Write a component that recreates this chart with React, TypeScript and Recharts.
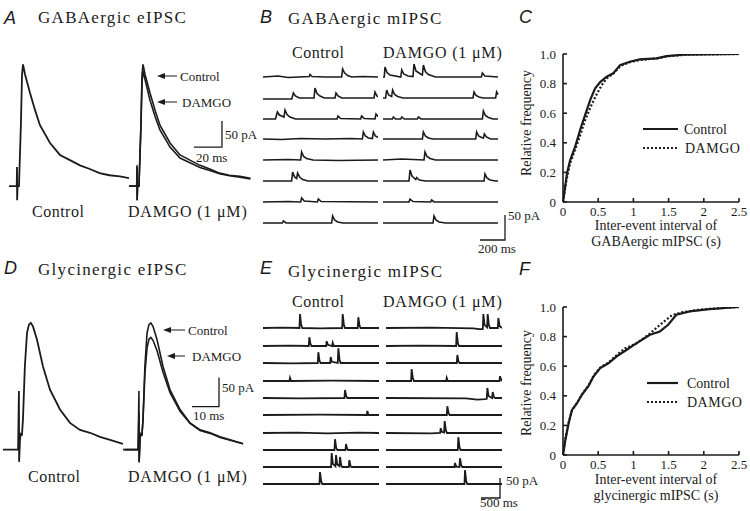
import { Line, LineChart, XAxis, YAxis } from "recharts";

const INK = "#1b1b1b";
const SERIF = "'Liberation Serif', 'Times New Roman', serif";
const SANS = "'Liberation Sans', Arial, sans-serif";

// evoked IPSCs, flat [ms, pA, ms, pA, ...]
const gabaEControl = [-5.7, 0, -0.2, 0, 0, 37, 0.1, -27, 0.4, 0, 1.4, 0, 2.8, 120, 3.6, 215, 4.3, 234, 5.7, 215, 9.3, 179, 12.9, 146, 16.4, 117, 23.6, 83, 30.7, 60, 37.8, 50, 45, 40, 52, 33, 59, 25, 66, 21, 73.5, 19, 81, 15];
const gabaEDamgo = [-5.7, 0, -0.2, 0, 0, 40, 0.1, -27, 0.4, 0, 1.4, 0, 2.8, 110, 3.6, 200, 4.3, 221, 5.7, 205, 9.3, 165, 12.9, 134, 16.4, 108, 23.6, 75, 30.7, 54, 37.8, 45, 45, 36, 52, 30, 59, 24, 66, 20, 73.5, 17, 81, 14];
const glyEControl = [-5.9, 0, -0.3, 0, 0, 101, 0.07, -21, 0.4, 17, 0.7, 29, 1.1, 24, 1.5, 52, 2.2, 143, 3, 201, 3.7, 215, 4.4, 218, 5.2, 212, 6.7, 189, 8.9, 143, 11.5, 103, 15.2, 69, 18.9, 46, 22.6, 34, 26.3, 29, 30, 22, 33.7, 17, 38.5, 10];
const glyEDamgo = [-5.2, 0, -0.3, 0, 0, 64, 0.07, -22, 0.4, 17, 0.7, 29, 1.1, 24, 1.5, 50, 2.2, 130, 3, 175, 3.7, 190, 4.4, 193, 5.2, 188, 6.7, 170, 8.9, 133, 11.5, 98, 15.2, 66, 18.9, 45, 22.6, 33, 26.3, 28, 30, 21, 33.7, 16, 38.5, 10];
const gabaEScale = [40.7, 75, 60.7, 75, 60.7, 125];
const glyEScale = [19.6, 74, 29.6, 74, 29.6, 124];

// GABAergic mIPSC sweeps, flat [ms, pA]
const gabaMiniControl = [
  [0, 0, 120, 2, 200, -1, 370, 1, 376, 5, 392, 1, 500, 0, 629, 0, 637, 16, 653, 8, 677, 3, 710, 0, 800, 1, 920, 0],
  [0, -2, 230, -2, 243, 10, 259, 4, 290, 0, 408, 0, 416, 20, 432, 9, 456, 4, 490, 0, 576, 0, 584, 10, 600, 4, 630, 0, 888, 0, 896, 12, 912, 4, 920, 2],
  [0, 0, 100, 0, 115, 14, 131, 8, 168, 4, 176, 18, 192, 9, 216, 4, 260, 0, 592, 0, 600, 6, 620, 1, 781, 0, 789, 6, 810, 1, 896, 0, 904, 10, 920, 5],
  [0, 0, 150, -1, 300, 1, 500, 0, 700, 1, 795, 0, 803, 14, 819, 6, 843, 2, 875, 1, 883, 14, 899, 6, 920, 3],
  [0, 0, 200, 1, 301, 0, 309, 16, 325, 7, 349, 3, 400, 0, 600, -1, 920, 0],
  [0, 0, 229, 0, 237, 18, 253, 8, 269, 5, 277, 16, 293, 8, 317, 3, 360, 0, 920, 0],
  [0, 0, 200, 1, 301, 0, 309, 8, 330, 2, 435, 0, 443, 6, 465, 1, 920, 0],
  [0, 0, 155, 0, 163, 4, 185, 0, 549, 0, 557, 14, 573, 6, 597, 2, 640, 0, 920, 0],
];
const gabaMiniDamgo = [
  [0, 0, 10, 0, 16, 20, 32, 9, 56, 4, 142, 0, 150, 14, 166, 6, 200, 2, 240, 1, 248, 26, 264, 12, 300, 6, 315, 4, 323, 24, 339, 11, 363, 5, 420, 0, 787, 0, 795, 8, 815, 2, 920, 0],
  [0, 0, 21, 0, 29, 16, 45, 6, 69, 3, 77, 16, 93, 7, 117, 3, 160, 0, 720, 0, 728, 12, 744, 5, 768, 2, 800, 0, 901, 0, 909, 12, 920, 7],
  [0, 0, 75, 0, 83, 4, 100, 0, 142, 0, 150, 4, 170, 0, 275, 0, 283, 4, 305, 0, 795, 0, 803, 16, 819, 7, 843, 3, 880, 0, 920, 0],
  [0, 0, 315, 0, 323, 14, 339, 6, 363, 2, 400, 0, 741, 0, 749, 14, 765, 6, 789, 3, 803, 2, 811, 10, 827, 4, 860, 0, 920, 0],
  [0, 0, 150, 2, 328, 0, 336, 16, 352, 7, 376, 3, 420, 0, 920, 0],
  [0, 0, 208, 0, 216, 22, 232, 10, 256, 4, 262, 3, 269, 7, 290, 2, 340, 0, 808, 0, 816, 14, 832, 6, 856, 2, 900, 0, 920, 0],
  [0, 0, 208, 0, 216, 6, 240, 1, 381, 0, 389, 4, 410, 0, 920, 0],
  [0, 0, 400, 0, 408, 14, 424, 6, 448, 2, 500, 0, 920, 0],
];
const gabaMiniScale = [80, 0, 280, 0, 280, 50];

// glycinergic mIPSC sweeps, flat [ms, pA]
const glyMiniControl = [
  [0, 0, 500, 1, 958, 0, 973, 35, 1003, 8, 1033, 0, 1500, -1, 2081, 0, 2096, 35, 2126, 8, 2156, 0, 2492, 0, 2507, 27, 2537, 6, 2567, 0, 3050, 0],
  [0, 0, 700, 1, 1203, 0, 1218, 22, 1248, 5, 1278, 0, 1660, 0, 1675, 12, 1705, 3, 1818, 0, 1833, 8, 1863, 0, 3050, 0],
  [0, 0, 800, -1, 1440, 0, 1455, 27, 1485, 6, 1515, 0, 1765, 0, 1780, 15, 1810, 3, 1966, 0, 1981, 37, 2011, 9, 2041, 0, 3050, 0],
  [0, 0, 695, 0, 710, 8, 740, 0, 1800, 1, 3050, 0],
  [0, 0, 1000, -1, 2142, 0, 2157, 20, 2187, 5, 2217, 0, 3050, 0],
  [0, 0, 1500, 1, 2729, 0, 2744, 10, 2774, 0, 3050, 0],
  [0, 0, 900, 1, 1700, -1, 2500, 1, 3050, 0],
  [0, 0, 1879, 0, 1894, 27, 1924, 6, 1954, 0, 2168, 0, 2183, 15, 2213, 3, 2243, 0, 3050, 0],
  [0, 0, 1791, 0, 1806, 35, 1836, 8, 1905, 2, 1920, 30, 1950, 7, 2010, 2, 2025, 25, 2055, 5, 2085, 0, 2255, 0, 2270, 17, 2300, 3, 2330, 0, 3050, 0],
  [0, 0, 1484, 0, 1499, 30, 1529, 7, 1559, 0, 3050, 0],
];
const glyMiniDamgo = [
  [0, 0, 1200, 1, 2300, -1, 2450, -3, 2545, -3, 2560, 35, 2590, 8, 2659, 2, 2674, 35, 2704, 8, 2734, 0, 2940, 0, 2955, 25, 2985, 5, 3050, 0],
  [0, 0, 900, 1, 1844, 0, 1859, 35, 1889, 7, 1919, 0, 3050, 0],
  [0, 0, 1861, 0, 1876, 20, 1906, 4, 1936, 0, 3050, 0],
  [0, 0, 660, 0, 675, 30, 705, 7, 735, 0, 1581, 0, 1596, 8, 1626, 0, 2983, 0, 2998, 12, 3028, 3, 3050, 0],
  [0, 0, 2100, -1, 2400, -4, 2600, -3, 2650, -2, 2665, 25, 2695, 5, 2791, 0, 2806, 15, 2836, 3, 2866, 0, 3050, 0],
  [0, 0, 1598, 0, 1613, 22, 1643, 5, 1673, 0, 3050, 0],
  [0, 0, 1200, -1, 1423, 0, 1438, 12, 1468, 3, 1528, 1, 1543, 30, 1573, 7, 1603, 0, 3050, 0],
  [0, 0, 1887, 0, 1902, 32, 1932, 7, 1962, 0, 3050, 0],
  [0, 0, 1800, 0, 1815, 10, 1845, 1, 1931, 0, 1946, 22, 1976, 5, 2006, 0, 3050, 0],
  [0, 0, 2063, 0, 2078, 35, 2108, 7, 2138, 0, 3050, 0],
];
const glyMiniScale = [289, 0, 789, 0, 789, 50];

// cumulative inter-event interval distributions, flat [s, fraction]
const gabaCumControl = [0, 0, 0.057, 0.194, 0.1, 0.28, 0.17, 0.37, 0.245, 0.49, 0.316, 0.59, 0.387, 0.69, 0.457, 0.768, 0.528, 0.81, 0.62, 0.847, 0.716, 0.87, 0.81, 0.925, 0.95, 0.948, 1.09, 0.964, 1.33, 0.97, 1.47, 0.986, 1.71, 0.995, 2.5, 1.0];
const gabaCumDamgo = [0, 0, 0.05, 0.15, 0.1, 0.26, 0.17, 0.35, 0.25, 0.46, 0.32, 0.56, 0.4, 0.65, 0.47, 0.72, 0.55, 0.79, 0.62, 0.835, 0.72, 0.87, 0.82, 0.92, 0.95, 0.945, 1.1, 0.96, 1.33, 0.97, 1.5, 0.985, 1.75, 0.995, 2.5, 1.0];
const glyCumControl = [0, 0, 0.033, 0.1, 0.08, 0.215, 0.127, 0.305, 0.198, 0.35, 0.268, 0.406, 0.363, 0.467, 0.433, 0.53, 0.528, 0.587, 0.645, 0.62, 0.764, 0.666, 0.905, 0.711, 1.047, 0.756, 1.235, 0.812, 1.376, 0.835, 1.494, 0.88, 1.61, 0.948, 1.8, 0.97, 2.08, 0.986, 2.5, 1.0];
const glyCumDamgo = [0, 0, 0.033, 0.11, 0.08, 0.22, 0.127, 0.3, 0.198, 0.35, 0.268, 0.41, 0.363, 0.47, 0.433, 0.535, 0.528, 0.59, 0.645, 0.625, 0.764, 0.675, 0.88, 0.72, 1.047, 0.755, 1.235, 0.82, 1.33, 0.86, 1.43, 0.9, 1.55, 0.945, 1.7, 0.965, 2.0, 0.985, 2.5, 1.0];

const cumXTicks = [0, 0.5, 1, 1.5, 2, 2.5];
const cumYTicks = [0, 0.2, 0.4, 0.6, 0.8, 1.0];

// row baselines (px) of the mIPSC sweeps
const gabaRows = [77, 98, 118.5, 139, 160, 181, 202, 223];
const glyRows = [328, 345.5, 363, 380.5, 398, 415, 432.5, 449.5, 466.5, 483.5];

const toPoints = (flat: number[]) => {
  const out: { t: number; v: number }[] = [];
  for (let i = 0; i < flat.length; i += 2) out.push({ t: flat[i], v: flat[i + 1] });
  return out;
};

interface TraceLine {
  data: number[];
  width?: number;
  dash?: string;
}

function Trace({ left, top, width, height, x, y, lines }: {
  left: number; top: number; width: number; height: number;
  x: [number, number]; y: [number, number]; lines: TraceLine[];
}) {
  return (
    <div style={{ position: "absolute", left, top }}>
      <LineChart width={width} height={height} margin={{ top: 0, right: 0, bottom: 0, left: 0 }}>
        <XAxis type="number" dataKey="t" domain={x} hide allowDataOverflow />
        <YAxis type="number" dataKey="v" domain={y} hide allowDataOverflow />
        {lines.map((l, i) => (
          <Line key={i} data={toPoints(l.data)} dataKey="v" type="linear" stroke={INK}
            strokeWidth={l.width ?? 1.5} strokeDasharray={l.dash} dot={false} activeDot={false}
            isAnimationActive={false} />
        ))}
      </LineChart>
    </div>
  );
}

function CumChart({ top, control, damgo }: { top: number; control: number[]; damgo: number[] }) {
  const tickStyle = { fontSize: 13, fill: INK, fontFamily: SERIF };
  const axisStroke = { stroke: INK, strokeWidth: 1.6 };
  return (
    <div style={{ position: "absolute", left: 520, top }}>
      <LineChart width={230} height={190} margin={{ top: 10, right: 11, bottom: 0, left: 0 }}>
        <XAxis type="number" dataKey="t" domain={[0, 2.5]} ticks={cumXTicks} allowDataOverflow
          tickSize={-4} tickMargin={9} height={32} axisLine={axisStroke} tickLine={axisStroke} tick={tickStyle} />
        <YAxis type="number" dataKey="v" domain={[0, 1]} ticks={cumYTicks} allowDataOverflow
          tickFormatter={(v: number) => (v === 0 ? "0" : v.toFixed(1))}
          tickSize={-4} tickMargin={11} width={43} axisLine={axisStroke} tickLine={axisStroke} tick={tickStyle} />
        <Line data={toPoints(control)} dataKey="v" type="linear" stroke={INK} strokeWidth={2.2}
          dot={false} activeDot={false} isAnimationActive={false} />
        <Line data={toPoints(damgo)} dataKey="v" type="linear" stroke={INK} strokeWidth={2.2}
          strokeDasharray="2 2" dot={false} activeDot={false} isAnimationActive={false} />
      </LineChart>
    </div>
  );
}

function Arrow({ x, y, x2 }: { x: number; y: number; x2: number }) {
  return (
    <g>
      <polygon points={`${x},${y} ${x + 8},${y - 3} ${x + 8},${y + 3}`} fill={INK} />
      <line x1={x + 7} y1={y} x2={x2} y2={y} stroke={INK} strokeWidth={1} />
    </g>
  );
}

export default function App() {
  const t = { fontFamily: SERIF, fill: INK };
  const letter = { fontFamily: SANS, fontStyle: "italic" as const, fontSize: 18, fill: INK };
  return (
    <div style={{ position: "absolute", left: 0, top: 0, width: 750, height: 511, background: "#fff", overflow: "hidden" }}>
      {/* A */}
      <Trace left={3} top={56} width={126} height={151} x={[-10, 80]} y={[-40, 250]}
        lines={[{ data: gabaEControl, width: 1.8 }]} />
      <Trace left={123} top={56} width={132} height={151} x={[-10, 84.3]} y={[-40, 250]}
        lines={[{ data: gabaEControl, width: 1.6 }, { data: gabaEDamgo, width: 1.6 }, { data: gabaEScale, width: 1.3 }]} />

      {/* D */}
      <Trace left={0} top={313} width={127} height={157} x={[-7, 40]} y={[-35, 235]}
        lines={[{ data: glyEControl, width: 1.8 }]} />
      <Trace left={120} top={313} width={132} height={157} x={[-7, 41.8]} y={[-35, 235]}
        lines={[{ data: glyEControl, width: 1.6 }, { data: glyEDamgo, width: 1.6 }, { data: glyEScale, width: 1.3 }]} />

      {/* B */}
      {gabaRows.map((b, i) => (
        <Trace key={`bc${i}`} left={263} top={b - 25} width={115} height={30} x={[0, 920]} y={[-10, 50]}
          lines={[{ data: gabaMiniControl[i], width: 1.6 }]} />
      ))}
      {gabaRows.map((b, i) => (
        <Trace key={`bd${i}`} left={383} top={b - 25} width={116} height={30} x={[0, 928]} y={[-10, 50]}
          lines={[{ data: gabaMiniDamgo[i], width: 1.6 }]} />
      ))}
      <Trace left={470} top={208} width={40} height={36} x={[0, 320]} y={[-8, 64]}
        lines={[{ data: gabaMiniScale, width: 1.3 }]} />

      {/* E */}
      {glyRows.map((b, i) => (
        <Trace key={`ec${i}`} left={263} top={b - 20} width={116} height={24} x={[0, 3050]} y={[-10, 50]}
          lines={[{ data: glyMiniControl[i], width: 1.8 }]} />
      ))}
      {glyRows.map((b, i) => (
        <Trace key={`ed${i}`} left={386} top={b - 20} width={116} height={24} x={[0, 3050]} y={[-10, 50]}
          lines={[{ data: glyMiniDamgo[i], width: 1.8 }]} />
      ))}
      <Trace left={470} top={470} width={40} height={32} x={[0, 1052]} y={[-10, 70]}
        lines={[{ data: glyMiniScale, width: 1.3 }]} />

      {/* C, F */}
      <CumChart top={44} control={gabaCumControl} damgo={gabaCumDamgo} />
      <CumChart top={297} control={glyCumControl} damgo={glyCumDamgo} />

      <svg width={750} height={511} style={{ position: "absolute", left: 0, top: 0, pointerEvents: "none" }}>
        {/* panel letters */}
        <text x={4} y={24} {...letter}>A</text>
        <text x={260} y={23} {...letter}>B</text>
        <text x={519} y={23} {...letter}>C</text>
        <text x={4} y={274} {...letter}>D</text>
        <text x={260} y={274} {...letter}>E</text>
        <text x={519} y={275} {...letter}>F</text>

        {/* titles */}
        <text x={38} y={23} fontSize={17} letterSpacing={1.3} {...t}>GABAergic eIPSC</text>
        <text x={288} y={24} fontSize={17} letterSpacing={1.3} {...t}>GABAergic mIPSC</text>
        <text x={38} y={275} fontSize={17} letterSpacing={1.3} {...t}>Glycinergic eIPSC</text>
        <text x={288} y={277} fontSize={17} letterSpacing={1.3} {...t}>Glycinergic mIPSC</text>

        {/* A annotations */}
        <Arrow x={157} y={76} x2={177} />
        <text x={180} y={80.5} fontSize={13} {...t}>Control</text>
        <Arrow x={157} y={102} x2={177} />
        <text x={182} y={106.5} fontSize={13} {...t}>DAMGO</text>
        <text x={225} y={139} fontSize={13} {...t}>50 pA</text>
        <text x={196} y={162} fontSize={13} {...t}>20 ms</text>
        <text x={32} y={217} fontSize={16} letterSpacing={0.5} {...t}>Control</text>
        <text x={128} y={217} fontSize={16} letterSpacing={0.8} {...t}>DAMGO (1 μM)</text>

        {/* D annotations */}
        <Arrow x={163} y={330} x2={185} />
        <text x={188} y={334.5} fontSize={13} {...t}>Control</text>
        <Arrow x={167} y={356} x2={185} />
        <text x={192} y={360.5} fontSize={13} {...t}>DAMGO</text>
        <text x={222} y={392} fontSize={13} {...t}>50 pA</text>
        <text x={193} y={420} fontSize={13} {...t}>10 ms</text>
        <text x={28} y={482} fontSize={16} letterSpacing={0.5} {...t}>Control</text>
        <text x={128} y={482} fontSize={16} letterSpacing={0.8} {...t}>DAMGO (1 μM)</text>

        {/* B annotations */}
        <text x={292} y={58} fontSize={16} letterSpacing={0.5} {...t}>Control</text>
        <text x={383} y={58} fontSize={16} letterSpacing={0.8} {...t}>DAMGO (1 μM)</text>
        <text x={508} y={220} fontSize={13} {...t}>50 pA</text>
        <text x={478} y={253} fontSize={13} {...t}>200 ms</text>

        {/* E annotations */}
        <text x={292} y={307} fontSize={16} letterSpacing={0.5} {...t}>Control</text>
        <text x={383} y={307} fontSize={16} letterSpacing={0.8} {...t}>DAMGO (1 μM)</text>
        <text x={506} y={485} fontSize={13} {...t}>50 pA</text>
        <text x={480} y={507} fontSize={13} {...t}>500 ms</text>

        {/* C labels + legend */}
        <text transform="translate(531,123) rotate(-90)" textAnchor="middle" fontSize={14} {...t}>Relative frequency</text>
        <text x={656} y={230} textAnchor="middle" fontSize={14} {...t}>Inter-event interval of</text>
        <text x={656} y={246} textAnchor="middle" fontSize={14} {...t}>GABAergic mIPSC (s)</text>
        <line x1={643} y1={129} x2={678} y2={129} stroke={INK} strokeWidth={2.2} />
        <line x1={643} y1={148} x2={678} y2={148} stroke={INK} strokeWidth={2.2} strokeDasharray="2 2" />
        <text x={684} y={133.5} fontSize={14} {...t}>Control</text>
        <text x={685} y={152.5} fontSize={14} letterSpacing={0.5} {...t}>DAMGO</text>

        {/* F labels + legend */}
        <text transform="translate(531,383) rotate(-90)" textAnchor="middle" fontSize={14} {...t}>Relative frequency</text>
        <text x={656} y={484} textAnchor="middle" fontSize={14} {...t}>Inter-event interval of</text>
        <text x={656} y={500} textAnchor="middle" fontSize={14} {...t}>glycinergic mIPSC (s)</text>
        <line x1={647} y1={383} x2={678} y2={383} stroke={INK} strokeWidth={2.2} />
        <line x1={647} y1={402} x2={678} y2={402} stroke={INK} strokeWidth={2.2} strokeDasharray="2 2" />
        <text x={687} y={387.5} fontSize={14} {...t}>Control</text>
        <text x={687} y={406.5} fontSize={14} letterSpacing={0.5} {...t}>DAMGO</text>
      </svg>
    </div>
  );
}
